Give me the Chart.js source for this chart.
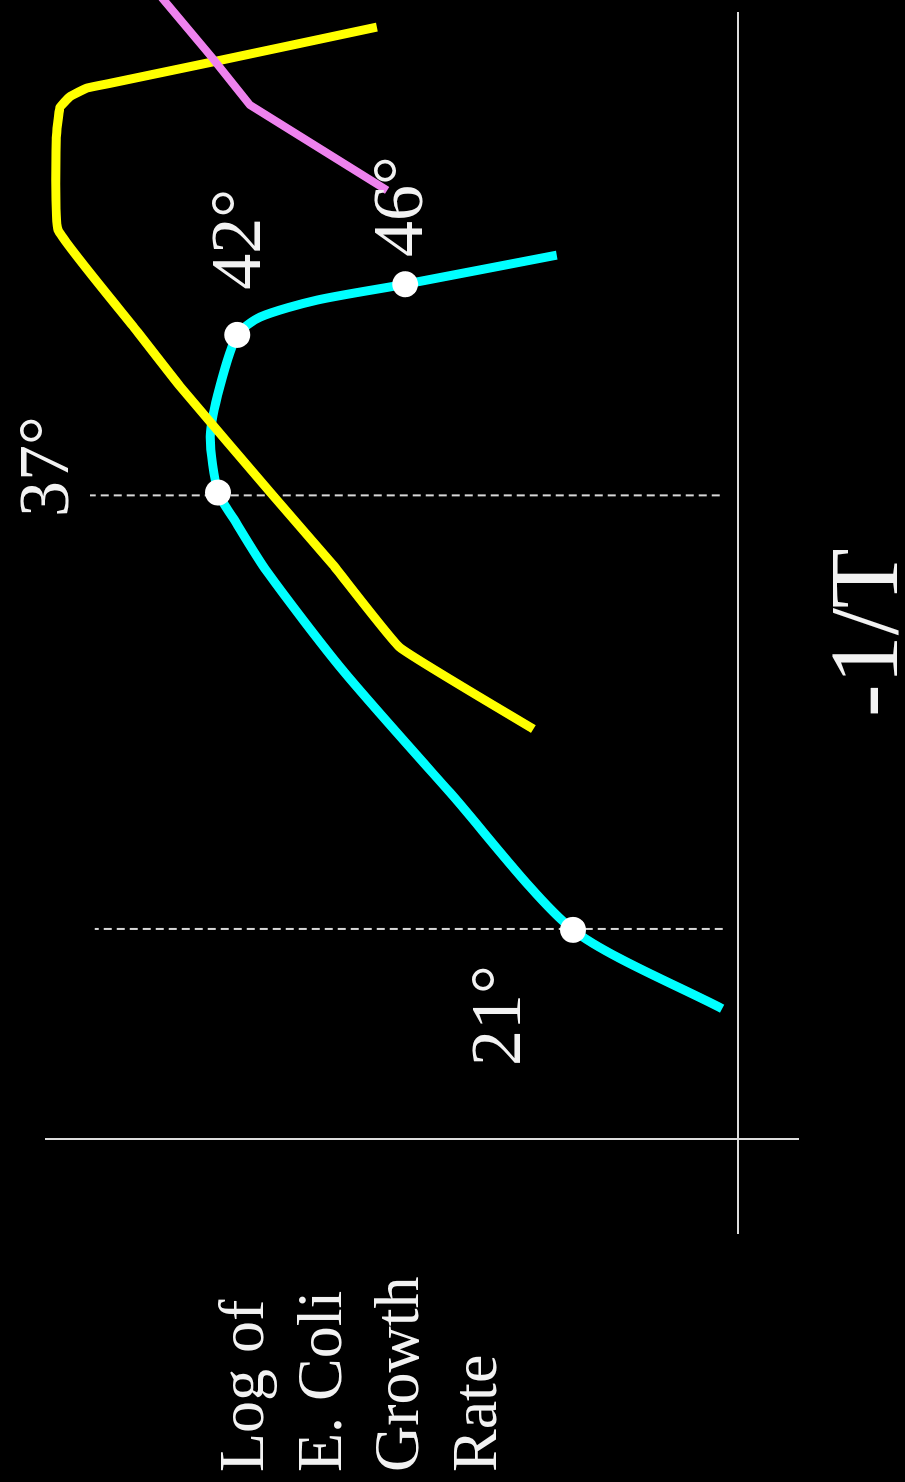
<!DOCTYPE html>
<html>
<head>
<meta charset="utf-8">
<script src="https://cdn.jsdelivr.net/npm/chart.js@4/dist/chart.umd.min.js"></script>
<style>
  html, body { margin: 0; padding: 0; background: #000; overflow: hidden; }
  body { width: 905px; height: 1482px; position: relative; }
  /* the whole chart is drawn lying on its side */
  #wrap { position: absolute; left: 0; top: 0; width: 1482px; height: 905px;
          transform-origin: 0 0; transform: translate(0, 1482px) rotate(-90deg); }
  canvas { display: block; }
</style>
</head>
<body>
<div id="wrap"><canvas id="myChart" width="1482" height="905"></canvas></div>
<script>
// x = -1/T, y = log of growth rate (arbitrary units)
const cyanX = [1.39, 2.23, 3.69, 4.99, 6.05, 6.62, 6.89, 7.49, 8.02, 8.57, 8.76, 8.94, 9.11, 9.42]
const cyanY = [0.26, 2.74, 4.78, 6.56, 7.83, 8.39, 8.64, 8.77, 8.61, 8.32, 7.94, 7.00, 5.53, 3.01]
const yellowX = [4.37, 5.24, 6.12, 6.86, 8.02, 8.66, 9.69, 10.67, 10.99, 11.11, 11.20, 11.25, 11.48, 11.85]
const yellowY = [3.40, 5.62, 6.73, 7.73, 9.27, 10.05, 11.30, 11.33, 11.27, 11.10, 10.82, 10.44, 8.72, 6.00]
const pinkX = [12.25, 11.51, 11.02, 10.11]
const pinkY = [9.69, 8.72, 8.11, 5.83]
// white dots on the cyan curve
const markerX = [2.23, 6.89, 8.57, 9.11]
const markerY = [2.74, 8.64, 8.32, 5.53]
// temperature labels
const tempLabels = ['21', '37', '42', '46']
const labelX = [0.78, 6.63, 9.05, 9.40]
const labelY = [3.62, 11.13, 7.94, 5.25]
// dashed guides
const guideX = [2.24, 6.86]
const guideTop = [10.69, 10.77]
const guideBottom = [0.25, 0.30]

const yTitle = ['Log of', 'E. Coli', 'Growth', 'Rate']
const xTitle = '-1/T'

const ctx = document.getElementById('myChart');

function pts(xs, ys){
  return xs.map((v, i) => ({x: v, y: ys[i]}))
}

const guides = guideX.map((gx, i) => ({
  data: [{x: gx, y: guideBottom[i]}, {x: gx, y: guideTop[i]}],
  showLine: true,
  borderColor: '#d8d8d8',
  borderWidth: 2,
  borderDash: [8, 5],
  pointRadius: 0
}))

const textLabels = {
  id: 'textLabels',
  afterDraw(chart){
    const c = chart.ctx
    const {x, y} = chart.scales
    const area = chart.chartArea
    c.save()
    c.fillStyle = '#f2f2f2'
    c.textBaseline = 'alphabetic'
    c.textAlign = 'left'
    c.font = '72px "Liberation Serif"'
    for(let i = 0; i < tempLabels.length; i++){
      c.fillText(tempLabels[i] + '°', x.getPixelForValue(labelX[i]), y.getPixelForValue(labelY[i]))
    }
    // axis titles
    c.font = '64px "Liberation Serif"'
    for(let i = 0; i < yTitle.length; i++){
      c.fillText(yTitle[i], 10, 263 + i * 77.5)
    }
    c.font = '98px "Liberation Serif"'
    c.fillText(xTitle, 765, area.bottom + 99)
    c.restore()
  }
}

new Chart(ctx, {
  type: 'scatter',
  data: {
    datasets: [
      {
        data: pts(markerX, markerY),
        pointRadius: 13,
        pointBackgroundColor: '#ffffff',
        pointBorderWidth: 0,
        showLine: false
      },
      {
        data: pts(pinkX, pinkY),
        showLine: true,
        borderColor: '#ee82ee',
        borderWidth: 8,
        borderJoinStyle: 'round',
        pointRadius: 0,
        clip: false
      },
      {
        data: pts(yellowX, yellowY),
        showLine: true,
        borderColor: '#ffff00',
        borderWidth: 9,
        borderJoinStyle: 'round',
        tension: 0.1,
        pointRadius: 0,
        clip: false
      },
      {
        data: pts(cyanX, cyanY),
        showLine: true,
        borderColor: '#00ffff',
        borderWidth: 9,
        borderJoinStyle: 'round',
        tension: 0.25,
        pointRadius: 0,
        clip: false
      },
      ...guides
    ]
  },
  options: {
    responsive: false,
    animation: false,
    events: [],
    layout: { padding: {left: 249, right: 4, top: 46, bottom: 107} },
    plugins: { legend: {display: false}, tooltip: {enabled: false} },
    scales: {
      x: {
        type: 'linear', min: -1, max: 12,
        position: {y: 0},
        grid: {display: false},
        ticks: {display: false},
        border: {display: true, color: '#dcdcdc', width: 2}
      },
      y: {
        type: 'linear', min: -1, max: 11.5,
        position: {x: 0},
        grid: {display: false},
        ticks: {display: false},
        border: {display: true, color: '#dcdcdc', width: 2}
      }
    }
  },
  plugins: [textLabels]
})
</script>
</body>
</html>
